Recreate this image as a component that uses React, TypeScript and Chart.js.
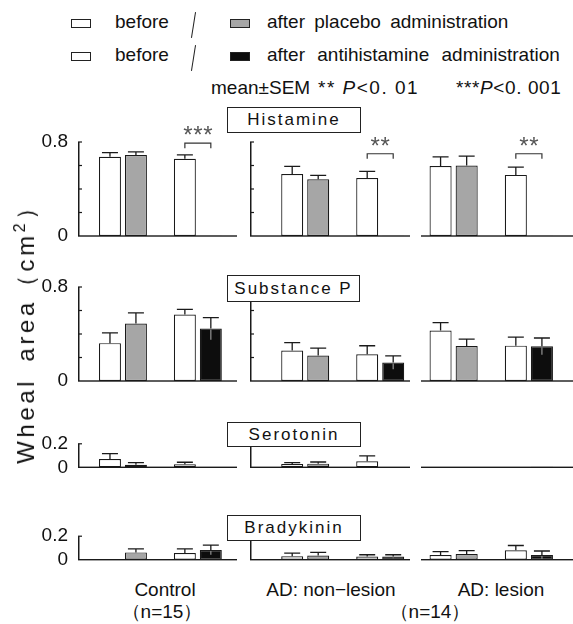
import React, { useEffect, useRef } from "react";
import { Chart, registerables } from "chart.js";
Chart.register(...registerables);

// ---------- data ----------
const groups = ["Control", "AD: non\u2212lesion", "AD: lesion"];
const pairLabels = ["placebo", "antihistamine"];
const substances = ["Histamine", "Substance P", "Serotonin", "Bradykinin"];
const axisMax = [0.8, 0.8, 0.2, 0.2];
const tickStep = 0.2;

// per group: [before placebo, after placebo, before antihistamine, after antihistamine]
const histamineMean = [[0.674, 0.69, 0.657, 0.003], [0.528, 0.483, 0.494, 0.003], [0.595, 0.6, 0.52, 0.003]];
const histamineSem = [[0.036, 0.026, 0.033, 0], [0.064, 0.033, 0.056, 0], [0.079, 0.08, 0.067, 0]];
const substancePMean = [[0.322, 0.49, 0.565, 0.446], [0.26, 0.216, 0.227, 0.157], [0.429, 0.298, 0.301, 0.295]];
const substancePSem = [[0.088, 0.09, 0.045, 0.094], [0.067, 0.064, 0.073, 0.056], [0.068, 0.059, 0.073, 0.071]];
const serotoninMean = [[0.071, 0.022, 0.026, 0], [0.028, 0.031, 0.051, 0], [0, 0, 0.003, 0.004]];
const serotoninSem = [[0.046, 0.018, 0.017, 0], [0.012, 0.014, 0.046, 0], [0, 0, 0, 0]];
const bradykininMean = [[0.003, 0.062, 0.056, 0.083], [0.03, 0.036, 0.027, 0.027], [0.039, 0.048, 0.08, 0.039]];
const bradykininSem = [[0, 0.03, 0.036, 0.041], [0.026, 0.026, 0.015, 0.015], [0.029, 0.029, 0.041, 0.035]];

const histamineSig = ["***", "**", "**"];
const histamineBracket = [0.79, 0.7, 0.7];

const means = [histamineMean, substancePMean, serotoninMean, bradykininMean];
const sems = [histamineSem, substancePSem, serotoninSem, bradykininSem];

// ---------- styles / layout ----------
const FONT = "'Liberation Sans', Arial, Helvetica, sans-serif";
const WHITE = "#ffffff";
const GRAY = "#a6a6a6";
const BLACK = "#0d0d0d";
const INK = "#1a1a1a";

const COLS = [
  { canvasLeft: 0, canvasWidth: 240, plotLeft: 85.5, plotRight: 235.3, lineStart: 78, lineEnd: 237, axis: true, labels: true },
  { canvasLeft: 240, canvasWidth: 180, plotLeft: 267.7, plotRight: 417.7, lineStart: 250, lineEnd: 410, axis: true, labels: false },
  { canvasLeft: 414, canvasWidth: 159, plotLeft: 416, plotRight: 566.5, lineStart: 421, lineEnd: 573, axis: false, labels: false },
];
const ROW_BOTTOMS = [236, 381, 467.3, 559.7];
const PX_PER_UNIT = 117.5;
const PAD_T = 26;
const PAD_B = 14;
const LABEL_RIGHT = 68;

const BOXES = [
  { left: 227, top: 107, width: 134, height: 26 },
  { left: 227, top: 275, width: 133, height: 27 },
  { left: 227, top: 422, width: 134, height: 25 },
  { left: 227, top: 515, width: 134, height: 26 },
];

function Panel({ row, col }: { row: number; col: number }) {
  const ref = useRef<HTMLCanvasElement | null>(null);
  const c = COLS[col];
  const max = axisMax[row];
  const plotH = max * PX_PER_UNIT;
  const canvasTop = Math.round(ROW_BOTTOMS[row] - plotH - PAD_T);
  const canvasH = Math.round(ROW_BOTTOMS[row] + PAD_B) - canvasTop;

  useEffect(() => {
    if (!ref.current) return;
    const m = means[row][col];
    const s = sems[row][col];
    const semByDataset = [[s[0], s[2]], [s[1], s[3]]];
    const padL = c.labels ? 0 : c.plotLeft - c.canvasLeft;
    const padR = c.canvasLeft + c.canvasWidth - c.plotRight;
    const padTop = ROW_BOTTOMS[row] - plotH - canvasTop;
    const padBottom = canvasTop + canvasH - ROW_BOTTOMS[row];

    const decor = {
      id: "panelDecor",
      afterDraw(chart: any) {
        const ctx = chart.ctx;
        const y = chart.scales.y;
        const y0 = y.getPixelForValue(0);
        ctx.save();
        ctx.lineWidth = 1.3;
        // error bars
        chart.data.datasets.forEach((ds: any, di: number) => {
          const meta = chart.getDatasetMeta(di);
          meta.data.forEach((el: any, i: number) => {
            const v = ds.data[i];
            const e = semByDataset[di][i];
            if (!e) return;
            const top = y.getPixelForValue(v + e);
            ctx.strokeStyle = INK;
            ctx.beginPath();
            ctx.moveTo(el.x, el.y);
            ctx.lineTo(el.x, top);
            ctx.moveTo(el.x - 8, top);
            ctx.lineTo(el.x + 8, top);
            ctx.stroke();
            const fill = Array.isArray(ds.backgroundColor) ? ds.backgroundColor[i] : ds.backgroundColor;
            if (fill === BLACK) {
              ctx.strokeStyle = "#8a8a8a";
              ctx.beginPath();
              ctx.moveTo(el.x, el.y + 1);
              ctx.lineTo(el.x, y.getPixelForValue(Math.max(v - e, 0)));
              ctx.stroke();
            }
          });
        });
        // baseline + y axis (inward ticks)
        const x0 = c.lineStart - c.canvasLeft;
        const x1 = c.lineEnd - c.canvasLeft;
        ctx.fillStyle = INK;
        ctx.fillRect(x0, y0 - 0.7, x1 - x0, 1.4);
        if (c.axis) {
          const yTop = y.getPixelForValue(max);
          ctx.fillRect(x0, yTop, 1.5, y0 - yTop);
          for (let v = tickStep; v <= max + 1e-9; v += tickStep) {
            const py = y.getPixelForValue(v);
            ctx.fillRect(x0, py - 0.6, 4, 1.2);
          }
        }
        // significance bracket
        if (row === 0 && histamineSig[col]) {
          const a = chart.getDatasetMeta(0).data[1];
          const b = chart.getDatasetMeta(1).data[1];
          const by = y.getPixelForValue(histamineBracket[col]);
          ctx.strokeStyle = "#333";
          ctx.lineWidth = 1.2;
          ctx.beginPath();
          ctx.moveTo(a.x, by + 5);
          ctx.lineTo(a.x, by);
          ctx.lineTo(b.x, by);
          ctx.lineTo(b.x, by + 5);
          ctx.stroke();
          const label = histamineSig[col];
          const cx = (a.x + b.x) / 2;
          ctx.fillStyle = "#555";
          ctx.font = `24px ${FONT}`;
          ctx.textAlign = "center";
          ctx.textBaseline = "alphabetic";
          const n = label.length;
          for (let k = 0; k < n; k++) {
            const sx = cx + (k - (n - 1) / 2) * 10;
            ctx.fillText("*", sx, by - 12 + 0.58 * 24 - 2);
          }
        }
        ctx.restore();
      },
    };

    const chart = new Chart(ref.current, {
      type: "bar",
      data: {
        labels: pairLabels,
        datasets: [
          {
            label: "before",
            data: [m[0], m[2]],
            backgroundColor: [WHITE, WHITE],
            borderColor: INK,
            borderWidth: 1.2,
            borderSkipped: false,
          },
          {
            label: "after",
            data: [m[1], m[3]],
            backgroundColor: [GRAY, BLACK],
            borderColor: INK,
            borderWidth: 1.2,
            borderSkipped: false,
          },
        ],
      },
      options: {
        responsive: false,
        animation: false,
        events: [],
        layout: { autoPadding: false, padding: { left: padL, right: padR, top: padTop, bottom: padBottom } },
        datasets: { bar: { categoryPercentage: 52 / 75, barPercentage: 22 / 26 } },
        plugins: { legend: { display: false }, tooltip: { enabled: false } },
        scales: {
          x: { type: "category", display: false, offset: true },
          y: {
            display: c.labels,
            min: 0,
            max,
            grid: { display: false, drawTicks: true, tickLength: c.plotLeft - LABEL_RIGHT },
            border: { display: false },
            afterFit: (sc: any) => {
              sc.width = c.labels ? c.plotLeft - c.canvasLeft : 0;
            },
            ticks: {
              stepSize: tickStep,
              padding: 0,
              autoSkip: false,
              color: "#111",
              font: { family: FONT, size: 19 },
              callback: (v: any) => {
                const n = Number(v);
                if (Math.abs(n) < 1e-9) return "0";
                if (Math.abs(n - max) < 1e-9) return String(max);
                return "";
              },
            },
          },
        },
      },
      plugins: [decor],
    } as any);
    return () => chart.destroy();
  }, [row, col]);

  return (
    <canvas
      ref={ref}
      width={c.canvasWidth}
      height={canvasH}
      style={{ position: "absolute", left: c.canvasLeft, top: canvasTop, width: c.canvasWidth, height: canvasH }}
    />
  );
}

const txt = (extra: any) => ({
  position: "absolute" as const,
  fontFamily: FONT,
  fontSize: 19,
  lineHeight: "20px",
  color: "#111",
  whiteSpace: "nowrap" as const,
  ...extra,
});

const swatch = (left: number, top: number, bg: string) => (
  <div style={{ position: "absolute", left, top, width: 20, height: 9, boxSizing: "border-box", border: "1.3px solid #222", background: bg }} />
);

const slash = (cx: number, cy: number) => (
  <div style={{ position: "absolute", left: cx, top: cy - 13, width: 1.3, height: 26, background: "#222", transform: "rotate(9deg)" }} />
);

export default function App() {
  const panels = [];
  for (let r = 0; r < substances.length; r++) for (let c = 0; c < groups.length; c++) panels.push(<Panel key={`${r}-${c}`} row={r} col={c} />);
  return (
    <div style={{ position: "absolute", left: 0, top: 0, width: 573, height: 624, background: "#fff", overflow: "hidden" }}>
      {/* legend */}
      {swatch(71, 19, WHITE)}
      <div style={txt({ left: 115, top: 12 })}>before</div>
      {slash(193, 25)}
      {swatch(230, 19, GRAY)}
      <div style={txt({ left: 267, top: 12, wordSpacing: 4 })}>after placebo administration</div>
      {swatch(71, 52, WHITE)}
      <div style={txt({ left: 115, top: 45 })}>before</div>
      {slash(193, 58)}
      {swatch(230, 52, BLACK)}
      <div style={txt({ left: 267, top: 45, wordSpacing: 7 })}>after antihistamine administration</div>
      <div style={txt({ left: 211, top: 78 })}>mean±SEM</div>
      <div style={txt({ left: 318, top: 78, letterSpacing: 1.5 })}>
        ** <i>P</i>&lt;0. 01
      </div>
      <div style={txt({ left: 456, top: 78, letterSpacing: 0.6 })}>
        ***<i>P</i>&lt;0. 001
      </div>

      {panels}

      {/* panel titles */}
      {substances.map((s, i) => (
        <div
          key={s}
          style={{
            position: "absolute",
            left: BOXES[i].left,
            top: BOXES[i].top,
            width: BOXES[i].width,
            height: BOXES[i].height,
            boxSizing: "border-box",
            border: "1.3px solid #222",
            background: "#fff",
            display: "flex",
            alignItems: "center",
            justifyContent: "center",
            fontFamily: FONT,
            fontSize: 17,
            letterSpacing: 2,
            color: "#111",
            whiteSpace: "nowrap",
          }}
        >
          {s}
        </div>
      ))}

      {/* y title */}
      <div
        style={{
          position: "absolute",
          left: 26,
          top: 328,
          transform: "translate(-50%, -50%) rotate(-90deg)",
          fontFamily: FONT,
          fontSize: 24,
          letterSpacing: 3.6,
          wordSpacing: 6,
          color: "#111",
          whiteSpace: "nowrap",
          lineHeight: "28px",
        }}
      >
        Wheal area（cm<sup style={{ fontSize: 16, lineHeight: 0 }}>2</sup>）
      </div>

      {/* group labels */}
      <div style={txt({ left: 165, top: 580, transform: "translateX(-50%)" })}>{groups[0]}</div>
      <div style={txt({ left: 331, top: 580, transform: "translateX(-50%)" })}>{groups[1]}</div>
      <div style={txt({ left: 501, top: 580, transform: "translateX(-50%)" })}>{groups[2]}</div>
      <div style={txt({ left: 162, top: 602, transform: "translateX(-50%)" })}>（n=15）</div>
      <div style={txt({ left: 430, top: 602, transform: "translateX(-50%)" })}>（n=14）</div>
    </div>
  );
}
